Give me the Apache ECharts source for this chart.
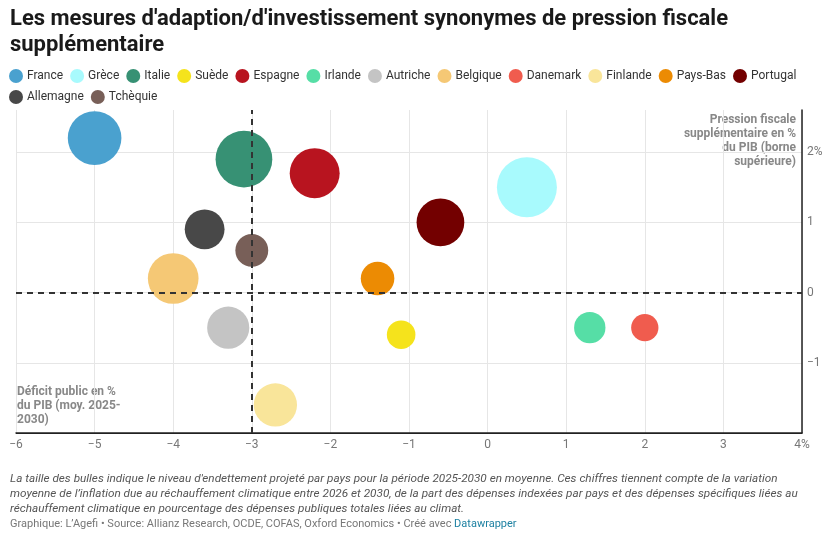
<!DOCTYPE html>
<html>
<head>
<meta charset="utf-8">
<script src="https://cdn.jsdelivr.net/npm/echarts@6/dist/echarts.min.js"></script>
<style>
  html, body { margin: 0; padding: 0; background: #fff; }
  #chart { width: 832px; height: 536px; }
</style>
</head>
<body>
<div id="chart"></div>
<script>
// pays, dans l'ordre de la légende
const countries = ['France', 'Grèce', 'Italie', 'Suède', 'Espagne', 'Irlande', 'Autriche',
  'Belgique', 'Danemark', 'Finlande', 'Pays-Bas', 'Portugal', 'Allemagne', 'Tchèquie'];
// déficit public en % du PIB (moy. 2025-2030)
const deficit = [-5, 0.5, -3.1, -1.1, -2.2, 1.3, -3.3, -4, 2, -2.7, -1.4, -0.6, -3.6, -3];
// pression fiscale supplémentaire en % du PIB
const pression = [2.2, 1.5, 1.9, -0.6, 1.7, -0.5, -0.5, 0.2, -0.5, -1.6, 0.2, 1.0, 0.9, 0.6];
// endettement projeté (taille des bulles)
const dette = [120, 150, 134, 34, 104, 41, 74, 107, 31, 78, 47, 95, 66, 45];
const colors = ['#4aa1cf', '#a8fafd', '#379174', '#f5e31c', '#b8141f', '#56dea6', '#c4c4c4',
  '#f5c875', '#f05c4e', '#f9e59a', '#ec8b03', '#730000', '#484848', '#785f58'];
const xTicks = [-6, -5, -4, -3, -2, -1, 0, 1, 2, 3, 4];
const yTicks = [-1, 0, 1, 2];

const FONT = 'Roboto, "Noto Sans", sans-serif';

function bubbleSize(val) {
  return 60 * Math.sqrt(val[2] / 150);
}

function fmt(v) {
  return v < 0 ? '\u2212' + Math.abs(v) : String(v);
}

const chart = echarts.init(document.getElementById('chart'));

const series = countries.map((name, i) => ({
  name,
  type: 'scatter',
  data: [[deficit[i], pression[i], dette[i]]],
  symbolSize: bubbleSize,
  itemStyle: { color: colors[i], opacity: 1 },
  emphasis: { disabled: true },
  z: 2
}));

// lignes de référence en pointillés
series.push({
  name: 'ref',
  type: 'scatter',
  data: [],
  silent: true,
  z: 5,
  markLine: {
    silent: true,
    symbol: 'none',
    label: { show: false },
    lineStyle: { color: '#333', type: [6, 5], width: 2 },
    data: [{ xAxis: -3 }, { yAxis: 0 }]
  }
});

const option = {
  backgroundColor: '#fff',
  animation: false,
  textStyle: { fontFamily: FONT },
  title: {
    text: "Les mesures d'adaption/d'investissement synonymes de pression fiscale\nsupplémentaire",
    left: 10,
    top: 6,
    padding: 0,
    textStyle: { fontFamily: FONT, fontSize: 22, fontWeight: 'bold', color: '#1a1a1a', lineHeight: 26 }
  },
  legend: {
    data: countries,
    left: 4,
    top: 68,
    width: 826,
    icon: 'circle',
    itemWidth: 14,
    itemHeight: 14,
    itemGap: 7,
    padding: [1, 5],
    textStyle: { fontFamily: FONT, fontSize: 12, color: '#333', padding: [0, 0, 0, -1] },
    selectedMode: false
  },
  grid: { left: 16, right: 30, top: 110, height: 323 },
  xAxis: {
    type: 'value',
    min: xTicks[0],
    max: xTicks[xTicks.length - 1],
    interval: 1,
    axisLine: { show: true, onZero: false, lineStyle: { color: '#222', width: 1.5 } },
    axisTick: { show: false },
    axisLabel: {
      color: '#777', fontSize: 12, margin: 6, fontFamily: FONT,
      formatter: v => (v === xTicks[xTicks.length - 1] ? v + '%' : fmt(v))
    },
    splitLine: { show: true, lineStyle: { color: '#e6e6e6', width: 1 } }
  },
  yAxis: {
    type: 'value',
    position: 'right',
    min: -2,
    max: 2.6,
    interval: 1,
    axisLine: { show: true, onZero: false, lineStyle: { color: '#222', width: 1.5 } },
    axisTick: { show: false },
    axisLabel: {
      color: '#777', fontSize: 12, margin: 5, fontFamily: FONT,
      formatter: v => {
        if (!yTicks.includes(v)) return '';
        return v === yTicks[yTicks.length - 1] ? v + '%' : fmt(v);
      }
    },
    splitLine: {
      show: true,
      lineStyle: { color: ['#222', '#e6e6e6', '#e6e6e6', '#e6e6e6', '#e6e6e6', 'rgba(0,0,0,0)'], width: 1 }
    }
  },
  graphic: [
    {
      type: 'text', x: 796, y: 113,
      style: {
        text: 'Pression fiscale\nsupplémentaire en %\ndu PIB (borne\nsupérieure)',
        align: 'right', verticalAlign: 'top',
        fontFamily: FONT, fontSize: 12, fontWeight: 'bold', fill: '#888', lineHeight: 14
      }
    },
    {
      type: 'text', left: 17, top: 385,
      style: {
        text: 'Déficit public en %\ndu PIB (moy. 2025-\n2030)',
        fontFamily: FONT, fontSize: 12, fontWeight: 'bold', fill: '#888', lineHeight: 14
      }
    },
    {
      type: 'text', left: 10, top: 472,
      style: {
        text: "La taille des bulles indique le niveau d'endettement projeté par pays pour la période 2025-2030 en moyenne. Ces chiffres tiennent compte de la variation\nmoyenne de l’inflation due au réchauffement climatique entre 2026 et 2030, de la part des dépenses indexées par pays et des dépenses spécifiques liées au\nréchauffement climatique en pourcentage des dépenses publiques totales liées au climat.",
        fontFamily: FONT, fontSize: 11.75, fontStyle: 'italic', fill: '#555', lineHeight: 15
      }
    },
    {
      type: 'text', left: 10, top: 519,
      style: {
        text: '{a|Graphique: L’Agefi • Source: Allianz Research, OCDE, COFAS, Oxford Economics • Créé avec }{b|Datawrapper}',
        rich: {
          a: { fontFamily: FONT, fontSize: 11, fill: '#777' },
          b: { fontFamily: FONT, fontSize: 11, fill: '#1d81a2' }
        }
      }
    }
  ],
  series
};

chart.setOption(option);
</script>
</body>
</html>
